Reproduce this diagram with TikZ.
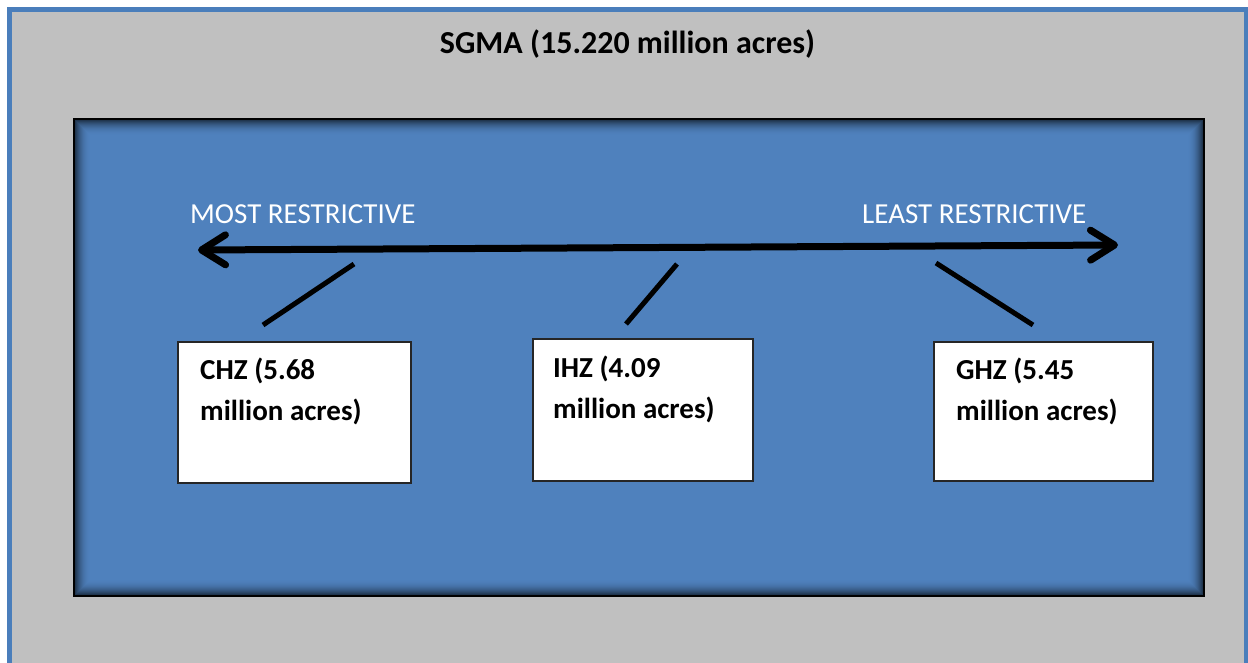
\documentclass[tikz,border=0pt]{standalone}
\usepackage{fontspec}
\setmainfont{Carlito}
\usetikzlibrary{arrows.meta,calc}
\definecolor{sgray}{HTML}{C0C0C0}
\definecolor{sblue}{HTML}{4F81BD}
\definecolor{sframe}{HTML}{4A7EBB}
\begin{document}
\begin{tikzpicture}[x=1pt,y=-1pt,
  outerframe/.style={draw=sframe,line width=5pt,fill=sgray},
  field/.style={draw=black,line width=2pt,fill=sblue,inner sep=0pt,anchor=north west},
  zone/.style={draw=black!85,line width=1.5pt,fill=white,inner sep=0pt},
  zonetext/.style={anchor=base west,align=left,inner sep=0pt,font=\bfseries\fontsize{29}{41}\selectfont},
  scale label/.style={anchor=base west,inner sep=0pt,text=white,font=\fontsize{29}{35}\selectfont},
  tick/.style={line width=5pt},
  axis/.style={line width=7pt,{Straight Barb[length=24pt,width=30pt,round]}-{Straight Barb[length=24pt,width=30pt,round]}}]
\useasboundingbox (0,0) rectangle (1248,662);
\fill[white] (0,0) rectangle (1248,662);
\draw[outerframe] (9,9) rectangle (1246.5,690);
\node (title) [anchor=base,inner sep=0pt,font=\bfseries\fontsize{32}{38}\selectfont] at (627.5,53) {SGMA (15.220 million acres)};
\node (field) [field,minimum width=1130pt,minimum height=477pt] at (73,118) {};
\foreach \i in {1,...,16}{
  \pgfmathsetmacro\op{0.75*(1-\i/17)^2}
  \draw[black,opacity=\op,line width=1pt] ($(field.north west)+(\i+0.5,\i+0.5)$) rectangle ($(field.south east)+(-\i-0.5,-\i-0.5)$);
}
\node (most) [scale label] at (190,223) {MOST RESTRICTIVE};
\node (least) [scale label] at (862,223) {LEAST RESTRICTIVE};
\coordinate (la) at (198,250);
\coordinate (ra) at (1118,245);
\draw[axis] (la) -- (ra);
\coordinate (c1) at (263,325); \coordinate (c2) at (354,264);
\coordinate (i1) at (626,324); \coordinate (i2) at (677,264);
\coordinate (g1) at (1033,325); \coordinate (g2) at (936,263);
\draw[tick] (c1) -- (c2);
\draw[tick] (i1) -- (i2);
\draw[tick] (g1) -- (g2);
\node (chz) [zone,minimum width=233pt,minimum height=141pt] at (294.5,412.5) {};
\node (ihz) [zone,minimum width=220pt,minimum height=142pt] at (643,410) {};
\node (ghz) [zone,minimum width=219pt,minimum height=139pt] at (1043.5,411.5) {};
\node (chzt) [zonetext] at (200,420) {CHZ (5.68\\million acres)};
\node (ihzt) [zonetext] at (553,418) {IHZ (4.09\\million acres)};
\node (ghzt) [zonetext] at (956,420) {GHZ (5.45\\million acres)};
\end{tikzpicture}
\end{document}
